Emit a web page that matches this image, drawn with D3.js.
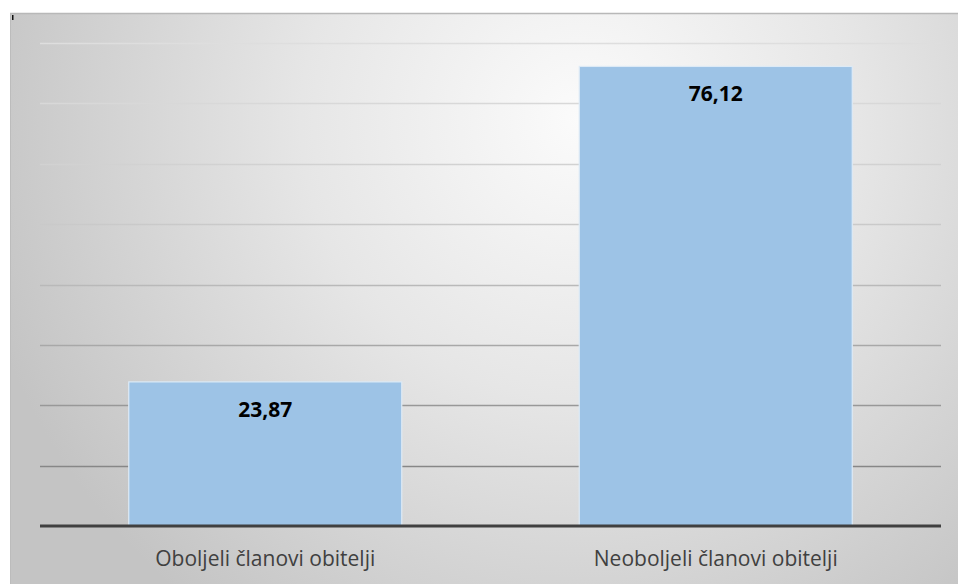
<!DOCTYPE html>
<html><head><meta charset="utf-8">
<script src="https://cdn.jsdelivr.net/npm/d3@7/dist/d3.min.js"></script>
<style>html,body{margin:0;padding:0;background:#fff;}svg{display:block;}</style>
</head><body>
<svg id="chart" width="958" height="584"></svg>
<script>
const categories = ["Oboljeli članovi obitelji", "Neoboljeli članovi obitelji"];
const values = [23.87, 76.12];
const valueLabels = ["23,87", "76,12"];
const yTicks = [0, 10, 20, 30, 40, 50, 60, 70, 80];

(function () {
const W = 958, H = 584;
const svg = d3.select("#chart");
const defs = svg.append("defs");

const bg = defs.append("radialGradient").attr("id", "bg")
  .attr("gradientUnits", "userSpaceOnUse")
  .attr("cx", 580).attr("cy", 120).attr("r", 620);
bg.append("stop").attr("offset", 0).attr("stop-color", "#fbfbfb");
bg.append("stop").attr("offset", 0.45).attr("stop-color", "#e6e6e6");
bg.append("stop").attr("offset", 1).attr("stop-color", "#c4c4c4");

const gl = defs.append("linearGradient").attr("id", "grid")
  .attr("gradientUnits", "userSpaceOnUse")
  .attr("x1", 0).attr("y1", 40).attr("x2", 0).attr("y2", 470);
gl.append("stop").attr("offset", 0).attr("stop-color", "#dedede");
gl.append("stop").attr("offset", 0.4).attr("stop-color", "#cdcdcd");
gl.append("stop").attr("offset", 1).attr("stop-color", "#868686");

svg.append("rect").attr("x", 10).attr("y", 13).attr("width", W - 10).attr("height", H - 13)
  .attr("fill", "url(#bg)");
svg.append("line").attr("x1", 10).attr("x2", W).attr("y1", 13.5).attr("y2", 13.5)
  .attr("stroke", "#b8b8b8").attr("stroke-width", 1.5);
svg.append("line").attr("x1", 10.5).attr("x2", 10.5).attr("y1", 13).attr("y2", H)
  .attr("stroke", "#bcbcbc").attr("stroke-width", 1);
svg.append("rect").attr("x", 12).attr("y", 15).attr("width", 1.5).attr("height", 5).attr("fill", "#111");

const mLeft = 40, mRight = 941, mTop = 43, mBottom = 526;
const x = d3.scaleBand().domain(categories).range([mLeft, mRight]).paddingInner(0.394).paddingOuter(0.197);
const y = d3.scaleLinear().domain([0, 80]).range([mBottom, mTop]);

svg.append("g").selectAll("line").data(yTicks.filter(d => d > 0)).join("line")
  .attr("x1", mLeft).attr("x2", mRight)
  .attr("y1", d => Math.round(y(d)) + 0.5).attr("y2", d => Math.round(y(d)) + 0.5)
  .attr("stroke", "url(#grid)").attr("stroke-width", 1.5);

svg.append("g").selectAll("rect").data(values).join("rect")
  .attr("x", (d, i) => x(categories[i]))
  .attr("y", d => y(d))
  .attr("width", x.bandwidth())
  .attr("height", d => mBottom - y(d))
  .attr("fill", "#9dc3e6")
  .attr("stroke", "#ddeaf6").attr("stroke-width", 1.2);

svg.append("line").attr("x1", mLeft).attr("x2", mRight).attr("y1", mBottom).attr("y2", mBottom)
  .attr("stroke", "#404040").attr("stroke-width", 3);

svg.append("g").selectAll("text").data(values).join("text")
  .attr("x", (d, i) => x(categories[i]) + x.bandwidth() / 2)
  .attr("y", d => y(d) + 35)
  .attr("text-anchor", "middle")
  .attr("font-family", "'Open Sans', Lato, sans-serif")
  .attr("font-weight", "bold").attr("font-size", 21).attr("fill", "#000")
  .text((d, i) => valueLabels[i]);

const xAxis = d3.axisBottom(x).tickSize(0).tickPadding(0);
const ax = svg.append("g").attr("transform", `translate(0,${mBottom})`).call(xAxis);
ax.select(".domain").remove();
ax.selectAll("text")
  .attr("y", 40)
  .attr("dy", 0)
  .attr("font-family", "'Open Sans', Lato, sans-serif")
  .attr("font-size", 21).attr("fill", "#404040");
})();
</script>
</body></html>
